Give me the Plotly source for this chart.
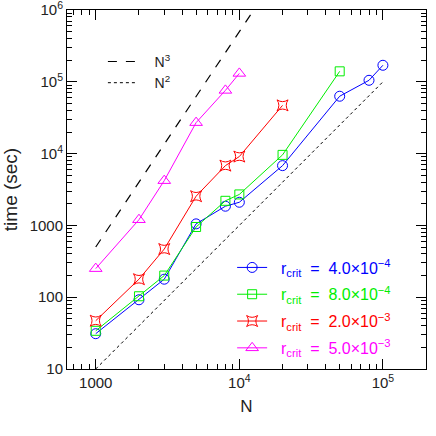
import plotly.graph_objects as go

# ---- data ----
N_a = [1000, 2000, 3000, 5000, 8000, 10000, 20000, 50000, 80000, 100000]
t_a = [31, 92, 178, 1050, 1850, 2100, 6800, 63000, 105000, 170000]
N_b = [1000, 2000, 3000, 5000, 8000, 10000, 20000, 50000]
t_b = [34, 103, 200, 950, 2200, 2700, 9600, 140000]
N_c = [1000, 2000, 3000, 5000, 8000, 10000, 20000]
t_c = [47, 178, 468, 2550, 6800, 9100, 47000]
N_d = [1000, 2000, 3000, 5000, 8000, 10000]
t_d = [250, 1200, 4200, 27000, 76000, 131000]

N3_x = [1000, 20000]
N3_y = [500, 4.0e6]
N2_x = [1000, 100000]
N2_y = [10, 1.0e5]

series_names = ["4.0×10<sup>−4</sup>", "8.0×10<sup>−4</sup>",
                "2.0×10<sup>−3</sup>", "5.0×10<sup>−3</sup>"]
series_colors = ["#0000ff", "#00ee00", "#ff0000", "#ff00ff"]
series_symbols = ["circle-open", "square-open", "star-square-open", "triangle-up-open"]
series_sizes = [10, 9, 10, 11]

x_tickvals = [1000, 10000, 100000]
x_ticktext = ["1000", "10<sup>4</sup>", "10<sup>5</sup>"]
y_tickvals = [10, 100, 1000, 10000, 100000, 1000000]
y_ticktext = ["10", "100", "1000", "10<sup>4</sup>", "10<sup>5</sup>", "10<sup>6</sup>"]

FONT = "Liberation Sans, Arial, sans-serif"
TXT = "#222222"
SP = "&nbsp;"

fig = go.Figure()

# reference lines (legend2)
fig.add_trace(go.Scatter(x=N3_x, y=N3_y, mode="lines",
                         line=dict(color="black", width=1.2, dash="dash"),
                         name=SP * 3 + "N<sup>3</sup>", legend="legend2", legendgroup="n3"))
fig.add_trace(go.Scatter(x=N2_x, y=N2_y, mode="lines",
                         line=dict(color="black", width=1, dash="dot"),
                         name=SP * 3 + "N<sup>2</sup>", legend="legend2", legendgroup="n2"))

for i, (Nx, ty, nm, col, sym, sz) in enumerate(zip([N_a, N_b, N_c, N_d], [t_a, t_b, t_c, t_d],
                                     series_names, series_colors, series_symbols, series_sizes)):
    fig.add_trace(go.Scatter(
        x=Nx, y=ty, mode="lines+markers",
        line=dict(color=col, width=1),
        marker=dict(symbol=sym, size=sz, color=col, line=dict(color=col, width=1)),
        name=f"<span style='color:{col}'>{SP}{SP}r<sub>crit</sub>{SP}{SP}={SP}{SP}{nm}</span>",
        legend="legend", legendgroup=f"g{i}"))

minor_x = [m * 10 ** e for e in range(2, 6) for m in range(2, 10)]
minor_y = [m * 10 ** e for e in range(1, 6) for m in range(2, 10)]

axis_common = dict(showgrid=False, zeroline=False, showline=True, linecolor="black",
                   linewidth=1, mirror="allticks", ticks="inside", ticklen=10,
                   tickcolor="black", tickwidth=1, automargin=False,
                   ticklabeloverflow="allow",
                   tickfont=dict(family=FONT, size=15, color=TXT))

fig.update_xaxes(type="log", range=[2.7999, 5.3], tickmode="array",
                 tickvals=x_tickvals, ticktext=x_ticktext,
                 minor=dict(tickmode="array", tickvals=minor_x, ticks="inside",
                            ticklen=5, tickcolor="black", showgrid=False),
                 title=dict(text="N", font=dict(family=FONT, size=17, color=TXT), standoff=10),
                 **axis_common)
fig.update_yaxes(type="log", range=[0.9995, 6.0005], tickmode="array",
                 tickvals=y_tickvals, ticktext=y_ticktext,
                 minor=dict(tickmode="array", tickvals=minor_y, ticks="inside",
                            ticklen=5, tickcolor="black", showgrid=False),
                 title=dict(text="time" + SP + "(sec)", font=dict(family=FONT, size=19, color=TXT), standoff=12),
                 **axis_common)

fig.update_layout(
    width=436, height=436,
    margin=dict(l=67, r=10, t=10, b=67),
    paper_bgcolor="white", plot_bgcolor="white",
    font=dict(family=FONT, color=TXT),
    legend=dict(x=0.46, y=0.33, xanchor="left", yanchor="top",
                bgcolor="rgba(0,0,0,0)", font=dict(family=FONT, size=16),
                tracegroupgap=3, itemwidth=30),
    legend2=dict(x=0.1, y=0.9, xanchor="left", yanchor="top",
                 bgcolor="rgba(0,0,0,0)", font=dict(family=FONT, size=14, color=TXT),
                 tracegroupgap=0),
)

fig.write_html("out.html", config={"displayModeBar": False},
               post_script="document.body.style.margin='0';document.body.style.overflow='hidden';")
